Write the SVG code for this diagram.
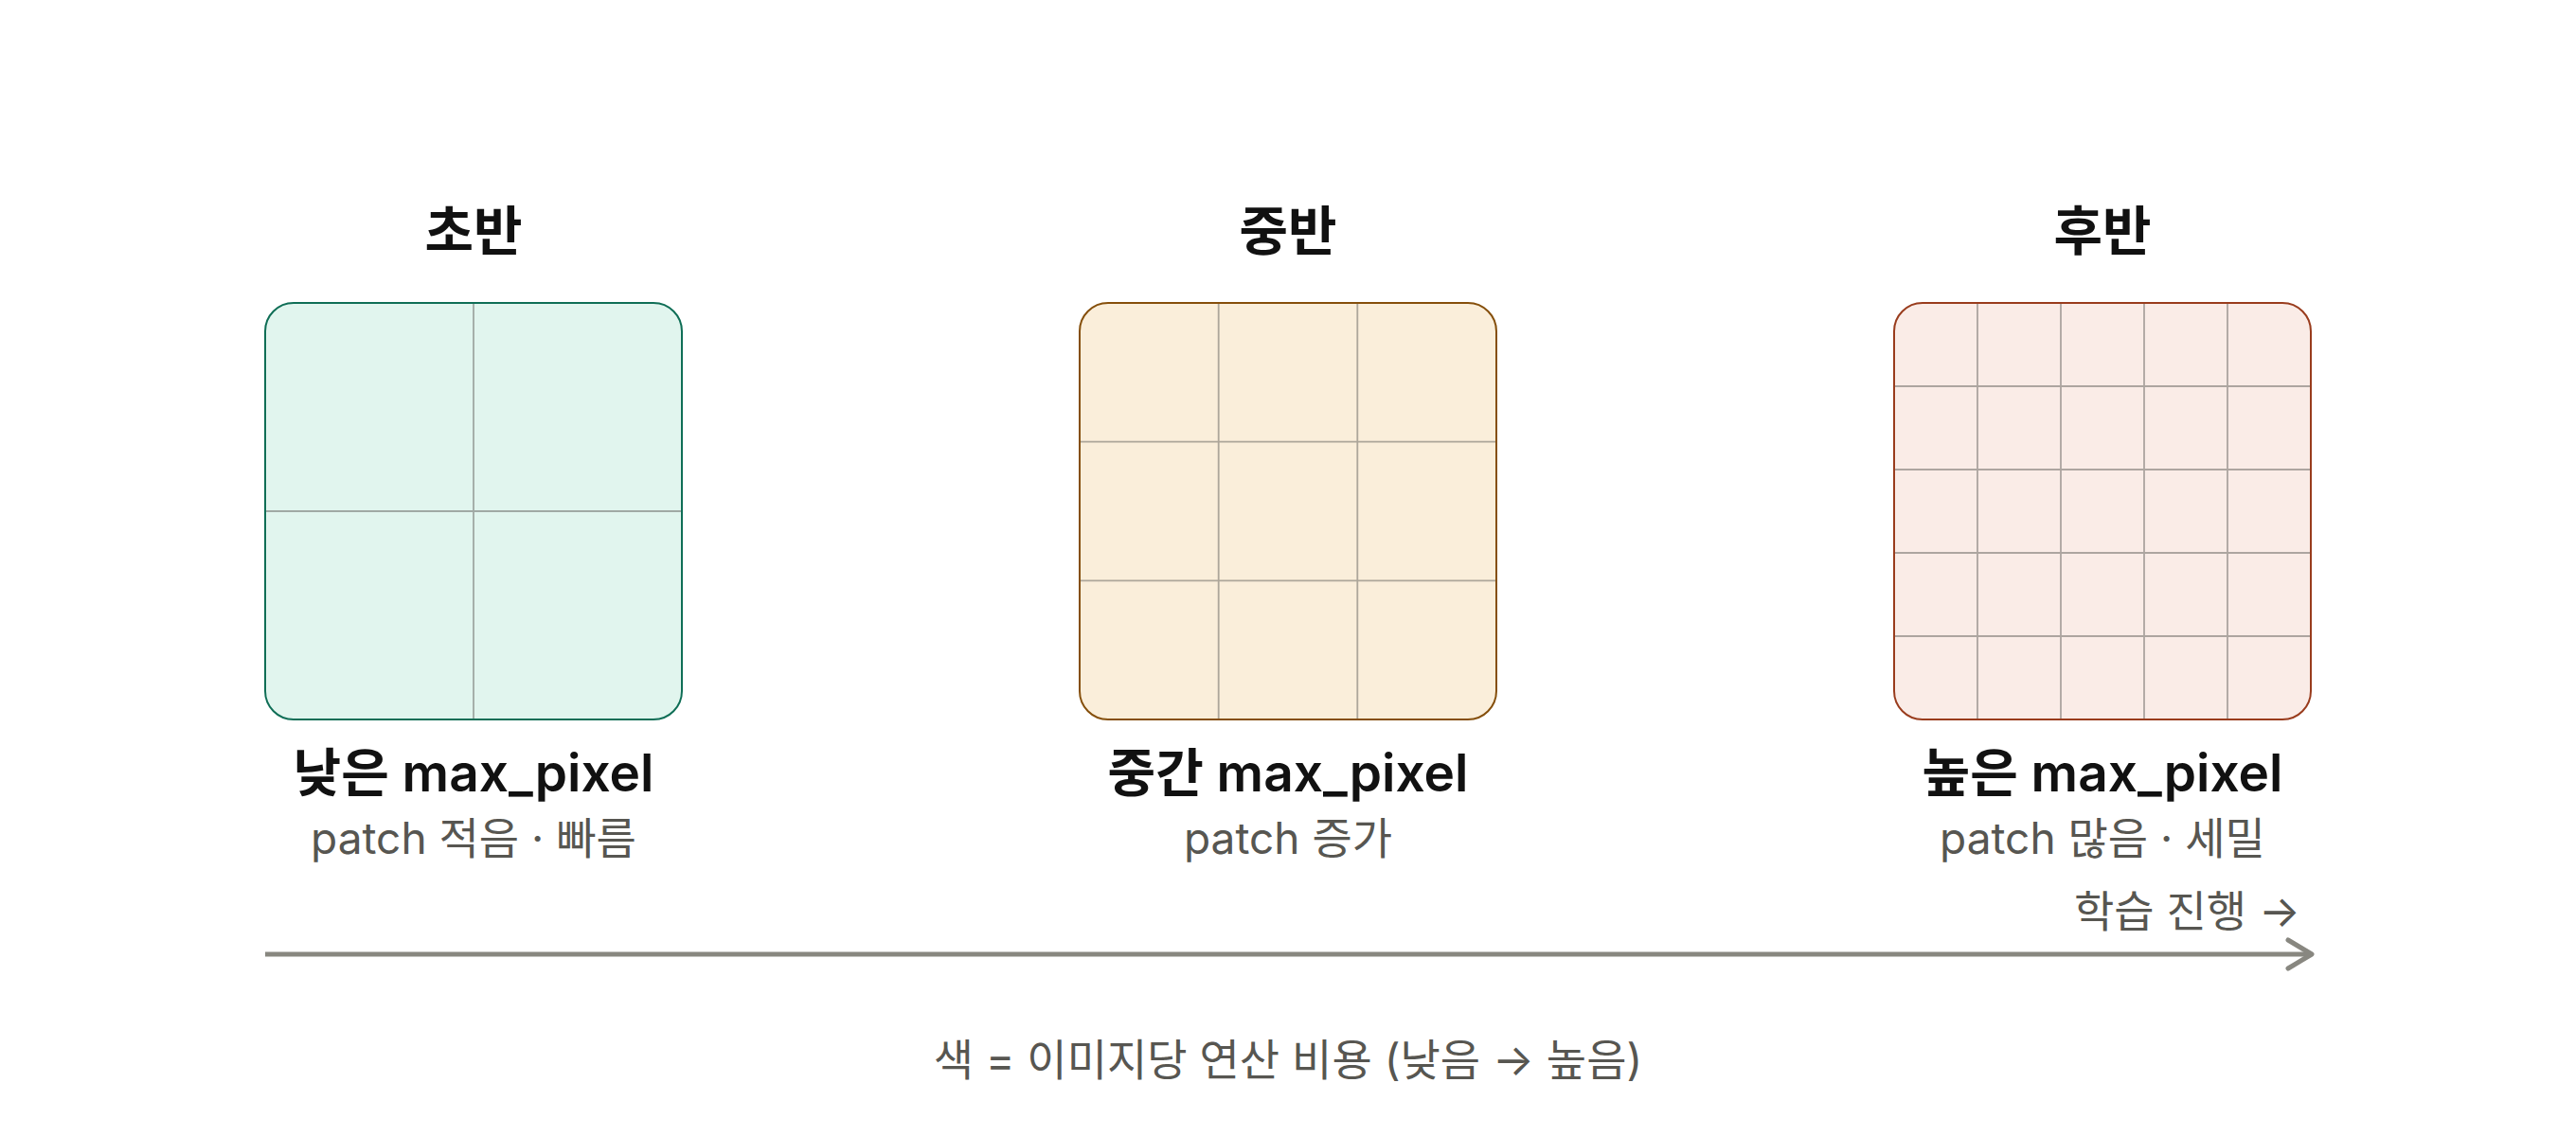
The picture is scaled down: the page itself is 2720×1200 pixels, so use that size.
<svg xmlns="http://www.w3.org/2000/svg" width="2720" height="1200" viewBox="0 0 2720 1200">
<defs>
<style>
text{font-family:Inter,"Noto Sans CJK KR","Noto Sans",sans-serif;text-anchor:middle}
.title{font-size:56px;font-weight:700;fill:#111111}
.label{font-size:55px;font-weight:600;fill:#111111}
.sub{font-size:46px;font-weight:400;fill:#575651}
.cap{font-size:46px;font-weight:400;fill:#575651}
.grid{stroke:#5f5e5a;stroke-opacity:0.5;stroke-width:1.8;fill:none}
.axis{stroke:#888780;stroke-width:5;fill:none}
</style>
<marker id="chev" markerUnits="userSpaceOnUse" markerWidth="40" markerHeight="40" viewBox="-30 -20 40 40" refX="0" refY="0" orient="auto">
<path d="M-25,-15 L0,0 L-25,15" fill="none" stroke="#888780" stroke-width="5" stroke-linecap="round" stroke-linejoin="round"/>
</marker>
</defs>
<rect width="2720" height="1200" fill="#ffffff"/>
<g id="early">
<text class="title" x="500" y="264">초반</text>
<rect x="280" y="320" width="440" height="440" rx="30" fill="#e1f5ee"/>
<path class="grid" d="M500,320V760M280,540H720"/>
<rect x="280" y="320" width="440" height="440" rx="30" fill="none" stroke="#0f6e56" stroke-width="2"/>
<text class="label" x="500" y="836">낮은 max_pixel</text>
<text class="sub" x="500" y="902">patch 적음 · 빠름</text>
</g>
<g id="mid">
<text class="title" x="1360" y="264">중반</text>
<rect x="1140" y="320" width="440" height="440" rx="30" fill="#faeeda"/>
<path class="grid" d="M1286.7,320V760M1433.3,320V760M1140,466.7H1580M1140,613.3H1580"/>
<rect x="1140" y="320" width="440" height="440" rx="30" fill="none" stroke="#854f0b" stroke-width="2"/>
<text class="label" x="1360" y="836">중간 max_pixel</text>
<text class="sub" x="1360" y="902">patch 증가</text>
</g>
<g id="late">
<text class="title" x="2220" y="264">후반</text>
<rect x="2000" y="320" width="440" height="440" rx="30" fill="#faece7"/>
<path class="grid" d="M2088,320V760M2176,320V760M2264,320V760M2352,320V760M2000,408H2440M2000,496H2440M2000,584H2440M2000,672H2440"/>
<rect x="2000" y="320" width="440" height="440" rx="30" fill="none" stroke="#993c1d" stroke-width="2"/>
<text class="label" x="2220" y="836">높은 max_pixel</text>
<text class="sub" x="2220" y="902">patch 많음 · 세밀</text>
</g>
<g id="connectors">
<line class="axis" x1="280" y1="1008" x2="2441" y2="1008" marker-end="url(#chev)"/>
</g>
<g id="axis-label">
<text class="cap" x="2429" y="979" style="text-anchor:end">학습 진행 →</text>
</g>
<g id="legend">
<text class="cap" x="1360" y="1136">색 = 이미지당 연산 비용 (낮음 → 높음)</text>
</g>
</svg>
